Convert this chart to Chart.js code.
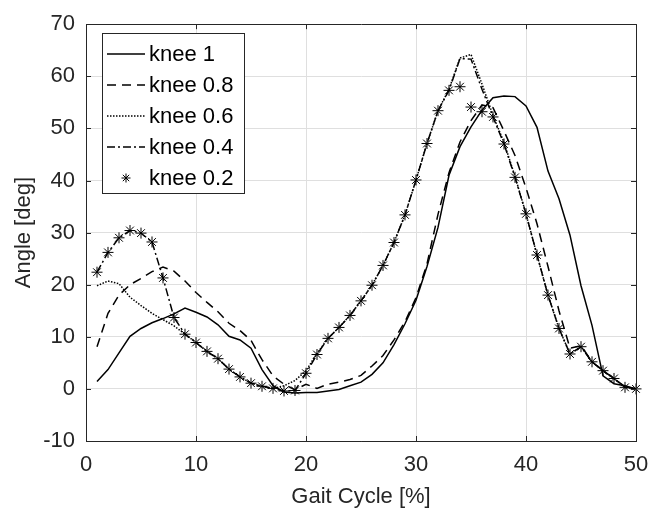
<!DOCTYPE html>
<html>
<head>
<meta charset="utf-8">
<script src="https://cdn.jsdelivr.net/npm/chart.js@4/dist/chart.umd.min.js"></script>
<style>
  html, body { margin: 0; padding: 0; background: #fff; }
  #wrap { width: 661px; height: 513px; position: relative; }
</style>
</head>
<body>
<div id="wrap"><canvas id="knee-chart"></canvas></div>
<script>
// gait cycle samples (%)
const gaitCycle = [1,2,3,4,5,6,7,8,9,10,11,12,13,14,15,16,17,18,19,20,21,22,23,24,25,
  26,27,28,29,30,31,32,33,34,35,36,37,38,39,40,41,42,43,44,45,46,47,48,49,50]

// knee angle [deg] per stiffness setting
const knee1 = [1.4,3.7,6.9,10.1,11.6,12.7,13.5,14.4,15.5,14.7,
  13.8,12.3,10.1,9.4,7.8,3.7,0.6,-0.6,-0.8,-0.7,
  -0.7,-0.4,-0.1,0.6,1.3,2.8,5.0,8.5,12.5,17.0,
  23.5,31.0,41.0,46.5,50.3,53.5,55.9,56.2,56.1,54.3,
  50.2,41.8,36.5,29.5,19.8,12.2,2.5,1.0,0.6,0.0]
const knee08 = [8.1,14.5,18.0,20.0,21.2,22.5,23.4,22.6,20.7,18.5,
  16.6,14.8,12.6,11.2,9.3,5.6,2.5,0.9,-0.2,0.9,
  0.1,0.9,1.3,1.8,2.6,4.4,6.4,9.4,12.9,17.5,
  24.0,33.5,41.5,47.4,51.5,54.5,54.0,49.5,44.8,38.6,
  31.7,23.5,15.0,7.8,8.3,5.2,3.5,2.0,0.4,0.0]
const knee06 = [19.8,20.7,20.2,17.6,16.0,14.5,13.3,12.1,10.5,8.9,
  7.2,5.8,3.8,2.3,1.1,0.5,0.1,0.6,1.6,3.5,
  6.8,9.7,11.8,14.1,16.9,19.9,23.7,28.1,33.4,40.1,
  47.1,53.4,57.5,63.5,64.2,58.5,52.5,47.3,40.8,33.6,
  25.7,18.0,11.6,6.7,8.1,5.2,3.5,2.0,0.3,0.0]
const knee04 = [22.4,26.2,29.0,30.4,29.9,28.2,21.3,13.7,10.5,8.9,
  7.2,5.8,3.8,2.3,1.1,0.5,0.1,-0.4,-0.3,3.0,
  6.6,9.7,11.8,14.1,16.9,19.9,23.7,28.1,33.4,40.1,
  47.1,53.4,57.3,63.4,63.3,57.5,52.2,47.0,40.6,33.6,
  25.7,18.0,11.6,6.7,8.1,5.2,3.5,2.0,0.3,0.0]
const knee02 = [22.4,26.2,29.0,30.4,29.9,28.2,21.3,13.7,10.5,8.9,
  7.2,5.8,3.8,2.3,1.1,0.5,0.1,-0.4,-0.3,3.0,
  6.6,9.7,11.8,14.1,16.9,19.9,23.7,28.1,33.4,40.1,
  47.1,53.4,57.3,58.0,54.1,53.2,52.2,47.0,40.6,33.6,
  25.7,18.0,11.6,6.7,8.1,5.2,3.5,2.0,0.3,0.0]

const xTicks = [0, 10, 20, 30, 40, 50]
const yTicks = [-10, 0, 10, 20, 30, 40, 50, 60, 70]
const seriesNames = ['knee 1', 'knee 0.8', 'knee 0.6', 'knee 0.4', 'knee 0.2']

const INK = '#262626'
const FONT = "'Liberation Sans', Arial, sans-serif"

const pts = ys => gaitCycle.map((x, i) => ({ x, y: ys[i] }))

const lineSet = (label, ys, dash) => ({
  label,
  data: pts(ys),
  borderColor: '#000',
  borderWidth: 1.5,
  borderDash: dash,
  pointRadius: 0,
  tension: 0,
  fill: false,
  clip: false,
})

// MATLAB-style box, inward ticks and boxed legend
const matlabFrame = {
  id: 'matlabFrame',
  afterDraw(chart) {
    const { ctx, chartArea: a, scales: { x, y } } = chart
    ctx.save()
    ctx.strokeStyle = INK
    ctx.lineWidth = 1
    ctx.setLineDash([])
    ctx.beginPath()
    ctx.rect(Math.round(a.left) + 0.5, Math.round(a.top) + 0.5,
      Math.round(a.right - a.left), Math.round(a.bottom - a.top))
    xTicks.forEach(v => {
      const px = Math.round(x.getPixelForValue(v)) + 0.5
      ctx.moveTo(px, a.bottom); ctx.lineTo(px, a.bottom - 5)
      ctx.moveTo(px, a.top); ctx.lineTo(px, a.top + 5)
    })
    yTicks.forEach(v => {
      const py = Math.round(y.getPixelForValue(v)) + 0.5
      ctx.moveTo(a.left, py); ctx.lineTo(a.left + 5, py)
      ctx.moveTo(a.right, py); ctx.lineTo(a.right - 5, py)
    })
    ctx.stroke()

    // legend
    const bx = 102.5, by = 33.5, bw = 142, bh = 160
    ctx.fillStyle = '#fff'
    ctx.fillRect(bx, by, bw, bh)
    ctx.strokeStyle = INK
    ctx.strokeRect(bx, by, bw, bh)
    ctx.font = `22px ${FONT}`
    ctx.textBaseline = 'middle'
    ctx.textAlign = 'left'
    chart.data.datasets.forEach((ds, i) => {
      const ry = 54 + i * 31
      ctx.strokeStyle = '#000'
      if (ds.showLine === false) {
        const r = 4.5
        ctx.lineWidth = 1
        ctx.setLineDash([])
        ctx.beginPath()
        for (let k = 0; k < 4; k++) {
          const t = k * Math.PI / 4
          ctx.moveTo(126 - r * Math.cos(t), ry - r * Math.sin(t))
          ctx.lineTo(126 + r * Math.cos(t), ry + r * Math.sin(t))
        }
        ctx.stroke()
      } else {
        ctx.lineWidth = ds.borderWidth
        ctx.setLineDash(ds.borderDash || [])
        ctx.beginPath()
        ctx.moveTo(107, ry)
        ctx.lineTo(145, ry)
        ctx.stroke()
      }
      ctx.setLineDash([])
      ctx.fillStyle = '#000'
      ctx.fillText(ds.label, 149, ry + 1)
    })
    ctx.restore()
  },
}

Chart.defaults.font.family = FONT
Chart.defaults.color = INK

new Chart(document.getElementById('knee-chart'), {
  type: 'line',
  data: {
    datasets: [
      lineSet(seriesNames[0], knee1, []),
      lineSet(seriesNames[1], knee08, [9, 6]),
      lineSet(seriesNames[2], knee06, [1.5, 1.5]),
      lineSet(seriesNames[3], knee04, [8, 3, 2, 3]),
      {
        label: seriesNames[4],
        data: pts(knee02),
        showLine: false,
        pointStyle: 'star',
        pointRadius: 5.5,
        pointBorderWidth: 1,
        pointBorderColor: '#000',
        pointBackgroundColor: '#000',
        clip: false,
      },
    ],
  },
  options: {
    responsive: true,
    maintainAspectRatio: false,
    animation: false,
    events: [],
    layout: { padding: { top: 17, right: 25, bottom: 0, left: 0 } },
    plugins: { legend: { display: false }, tooltip: { enabled: false } },
    scales: {
      x: {
        type: 'linear',
        min: 0, max: 50,
        afterBuildTicks: s => { s.ticks = xTicks.map(v => ({ value: v })) },
        afterFit: s => { s.height = 72 },
        ticks: { font: { size: 22 }, padding: 11, color: INK, maxRotation: 0 },
        grid: { color: '#dfdfdf', drawTicks: false },
        border: { color: INK, width: 1 },
        title: { display: true, text: 'Gait Cycle [%]', font: { size: 22 }, color: INK, padding: { top: 0, bottom: 3 } },
      },
      y: {
        type: 'linear',
        min: -10, max: 70,
        afterBuildTicks: s => { s.ticks = yTicks.map(v => ({ value: v })) },
        afterFit: s => { s.width = 86 },
        ticks: { font: { size: 22 }, padding: 11, color: INK },
        grid: { color: '#dfdfdf', drawTicks: false },
        border: { color: INK, width: 1 },
        title: { display: true, text: 'Angle [deg]', font: { size: 22 }, color: INK, padding: { top: 11, bottom: 0 } },
      },
    },
  },
  plugins: [matlabFrame],
})
</script>
</body>
</html>
